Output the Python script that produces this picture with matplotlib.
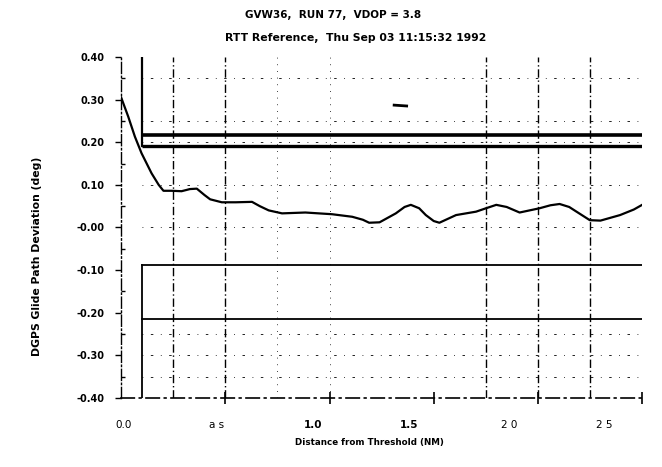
import matplotlib
matplotlib.use("Agg")
import matplotlib.pyplot as plt

# -------------
# Data
# -------------
dist = [0.0, 0.034, 0.066, 0.098, 0.146, 0.18, 0.203, 0.242, 0.29, 0.33, 0.363, 0.40,
        0.427, 0.483, 0.55, 0.628, 0.665, 0.708, 0.772, 0.884, 1.012, 1.109, 1.16,
        1.19, 1.24, 1.318, 1.36, 1.39, 1.43, 1.462, 1.50, 1.527, 1.607, 1.703, 1.751,
        1.80, 1.85, 1.912, 2.008, 2.06, 2.104, 2.15, 2.185, 2.249, 2.30, 2.394, 2.46, 2.5]
dev = [0.305, 0.26, 0.213, 0.174, 0.127, 0.100, 0.086, 0.086, 0.085, 0.090, 0.091, 0.076,
       0.066, 0.059, 0.059, 0.060, 0.050, 0.040, 0.033, 0.035, 0.031, 0.025, 0.018,
       0.011, 0.012, 0.033, 0.048, 0.053, 0.045, 0.029, 0.015, 0.011, 0.029, 0.037, 0.045,
       0.053, 0.048, 0.035, 0.045, 0.052, 0.055, 0.048, 0.037, 0.017, 0.016, 0.029, 0.042, 0.053]

y_ticks = [0.40, 0.30, 0.20, 0.10, 0.0, -0.10, -0.20, -0.30, -0.40]
y_tick_labels = ["0.40", "0.30", "0.20", "0.10", "-0.00", "-0.10", "-0.20", "-0.30", "-0.40"]
x_tick_marks = [0.5, 1.0, 1.5, 2.0, 2.5]
x_label_pos = [0.01, 0.46, 0.92, 1.38, 1.86, 2.32]
x_tick_labels = ["0.0", "a s", "1.0", "1.5", "2 0", "2 5"]
x_label_bold = [False, False, True, True, False, False]

# limit boxes (upper / lower)
box_x = 0.1
upper_limits = [0.218, 0.19]
lower_limits = [-0.088, -0.215]

# grid lines left on the plot
vgrid_heavy = [0.25, 0.5, 1.75, 2.0, 2.25]
vgrid_light = [0.75, 1.0]
hgrid_light = [0.35, 0.25, 0.20, 0.10, 0.0, -0.25, -0.30, -0.35]

# -------------
# Drawing
# -------------
fig = plt.figure(figsize=(6.62, 4.67), dpi=100)
ax = fig.add_axes([0.183, 0.148, 0.787, 0.73])

for xv in vgrid_heavy:
    ax.axvline(xv, color="black", lw=1.0, ls=(0, (6, 2, 1, 2)))
for xv in vgrid_light:
    ax.axvline(xv, color="black", lw=0.6, ls=(0, (1, 7)))
for yv in hgrid_light:
    ax.axhline(yv, color="black", lw=0.6, ls=(0, (1, 9, 3, 9)), xmin=0.04)

# upper box
ax.plot([box_x, box_x], [0.40, upper_limits[1]], color="black", lw=1.6)
ax.plot([box_x, 2.5], [upper_limits[0]] * 2, color="black", lw=2.6, solid_capstyle="butt")
ax.plot([box_x, 2.5], [upper_limits[1]] * 2, color="black", lw=2.4, solid_capstyle="butt")
# lower box
ax.plot([box_x, box_x], [lower_limits[0], -0.40], color="black", lw=1.3)
ax.plot([box_x, 2.5], [lower_limits[0]] * 2, color="black", lw=1.3)
ax.plot([box_x, 2.5], [lower_limits[1]] * 2, color="black", lw=1.3)

# small stray mark
ax.plot([1.31, 1.37], [0.287, 0.285], color="black", lw=2.0)

ax.plot(dist, dev, color="black", lw=1.6)

ax.set_xlim(0, 2.5)
ax.set_ylim(-0.40, 0.40)

for s in ["top", "right"]:
    ax.spines[s].set_visible(False)
ax.spines["left"].set_linestyle((0, (8, 2, 1, 2)))
ax.spines["left"].set_linewidth(1.0)
ax.spines["bottom"].set_linestyle((0, (8, 3, 1, 3)))
ax.spines["bottom"].set_linewidth(1.2)

ax.set_yticks(y_ticks, labels=y_tick_labels)
ax.set_yticks([0.35, 0.25, 0.15, 0.05, -0.05, -0.15, -0.25, -0.35], minor=True)
ax.tick_params(axis="y", which="major", length=4, width=1, direction="out", pad=8)
ax.tick_params(axis="y", which="minor", length=3, width=1, direction="in")
for lab in ax.get_yticklabels():
    lab.set_fontsize(7)
    lab.set_fontweight("bold")

ax.set_xticks(x_label_pos, labels=x_tick_labels)
ax.set_xticks(x_tick_marks, minor=True)
ax.tick_params(axis="x", which="major", length=0, pad=16)
ax.tick_params(axis="x", which="minor", length=8, width=1.2, direction="inout")
for lab, b in zip(ax.get_xticklabels(), x_label_bold):
    lab.set_fontsize(7.5)
    lab.set_fontweight("bold" if b else "normal")

fig.text(0.503, 0.967, "GVW36,  RUN 77,  VDOP = 3.8", ha="center", va="center",
         fontsize=7.5, fontweight="bold")
fig.text(0.538, 0.918, "RTT Reference,  Thu Sep 03 11:15:32 1992", ha="center", va="center",
         fontsize=7.8, fontweight="bold")
fig.text(0.056, 0.45, "DGPS Glide Path Deviation (deg)", rotation=90, ha="center", va="center",
         fontsize=7.8, fontweight="bold")
fig.text(0.558, 0.052, "Distance from Threshold (NM)", ha="center", va="center",
         fontsize=6.3, fontweight="bold")

fig.savefig("out.png", dpi=100)
